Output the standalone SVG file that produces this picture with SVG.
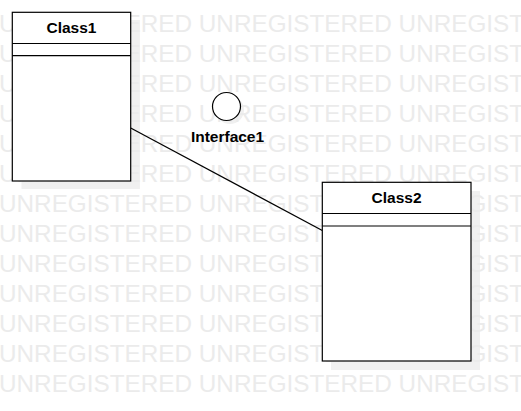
<svg xmlns="http://www.w3.org/2000/svg" width="521" height="411" viewBox="0 0 521 411">
<style>
.wm{font-family:"Liberation Sans",Arial,sans-serif;font-size:24.3px;fill:#ebebeb}
.sh{fill:#f0f0f0;stroke:none}
.box{fill:#ffffff;stroke:#000000;stroke-width:1.2}
.ln{stroke:#000000;stroke-width:1.2;fill:none}
.lbl{font-family:"Liberation Sans",Arial,sans-serif;font-size:15.5px;font-weight:bold;fill:#000000;text-anchor:middle}
</style>
<rect width="521" height="411" fill="#ffffff"/>
<g id="shadows">
<rect class="sh" x="21.5" y="20" width="118.4" height="169"/>
<rect class="sh" x="331" y="191" width="149" height="179"/>
<circle class="sh" cx="230" cy="110" r="14"/>
</g>
<g id="watermark">
<text class="wm" x="-1" y="31.7">UNREGISTERED UNREGISTERED UNREGISTERED</text>
<text class="wm" x="-1" y="61.7">UNREGISTERED UNREGISTERED UNREGISTERED</text>
<text class="wm" x="-1" y="91.7">UNREGISTERED UNREGISTERED UNREGISTERED</text>
<text class="wm" x="-1" y="121.7">UNREGISTERED UNREGISTERED UNREGISTERED</text>
<text class="wm" x="-1" y="151.7">UNREGISTERED UNREGISTERED UNREGISTERED</text>
<text class="wm" x="-1" y="181.7">UNREGISTERED UNREGISTERED UNREGISTERED</text>
<text class="wm" x="-1" y="211.7">UNREGISTERED UNREGISTERED UNREGISTERED</text>
<text class="wm" x="-1" y="241.7">UNREGISTERED UNREGISTERED UNREGISTERED</text>
<text class="wm" x="-1" y="271.7">UNREGISTERED UNREGISTERED UNREGISTERED</text>
<text class="wm" x="-1" y="301.7">UNREGISTERED UNREGISTERED UNREGISTERED</text>
<text class="wm" x="-1" y="331.7">UNREGISTERED UNREGISTERED UNREGISTERED</text>
<text class="wm" x="-1" y="361.7">UNREGISTERED UNREGISTERED UNREGISTERED</text>
<text class="wm" x="-1" y="391.7">UNREGISTERED UNREGISTERED UNREGISTERED</text>
</g>
<g id="connectors">
<line class="ln" x1="130.7" y1="128" x2="322.3" y2="230.5"/>
</g>
<g id="Class1">
<rect class="box" x="12.3" y="12.3" width="118.4" height="168.7"/>
<line class="ln" x1="12.3" y1="43.5" x2="130.7" y2="43.5"/>
<line class="ln" x1="12.3" y1="55.7" x2="130.7" y2="55.7"/>
<text class="lbl" x="71.5" y="33">Class1</text>
</g>
<g id="Interface1">
<circle class="box" cx="226.5" cy="106.5" r="14"/>
<text class="lbl" x="227.5" y="141.5">Interface1</text>
</g>
<g id="Class2">
<rect class="box" x="322.3" y="182.3" width="148.7" height="178.7"/>
<line class="ln" x1="322.3" y1="213.5" x2="471" y2="213.5"/>
<line class="ln" x1="322.3" y1="226" x2="471" y2="226"/>
<text class="lbl" x="396.6" y="203">Class2</text>
</g>
</svg>
